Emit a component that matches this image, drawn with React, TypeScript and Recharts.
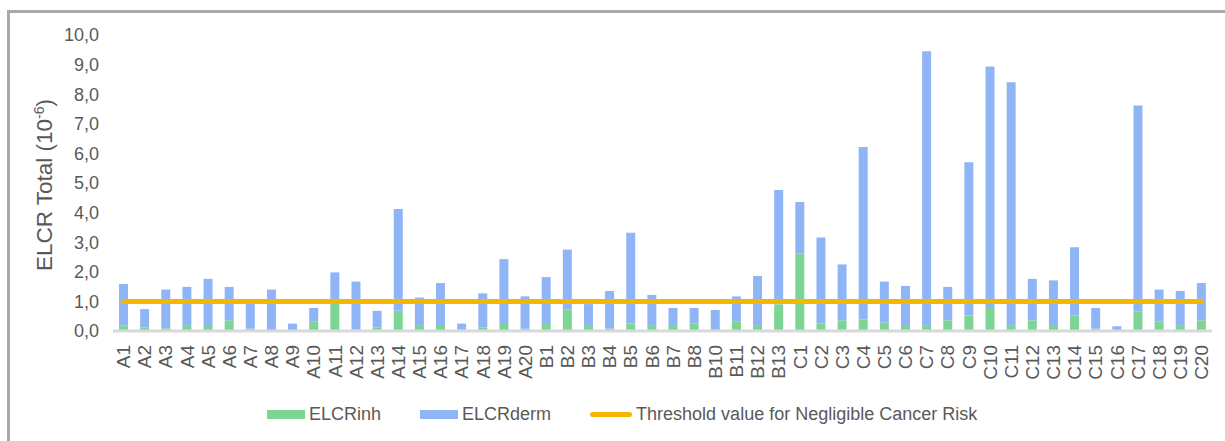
// @ts-nocheck
import React from "react";
import {
  ComposedChart,
  Bar,
  Line,
  XAxis,
  YAxis,
} from "recharts";

const categories = [
  "A1", "A2", "A3", "A4", "A5", "A6", "A7", "A8", "A9", "A10",
  "A11", "A12", "A13", "A14", "A15", "A16", "A17", "A18", "A19", "A20",
  "B1", "B2", "B3", "B4", "B5", "B6", "B7", "B8", "B10", "B11", "B12", "B13",
  "C1", "C2", "C3", "C4", "C5", "C6", "C7", "C8", "C9", "C10",
  "C11", "C12", "C13", "C14", "C15", "C16", "C17", "C18", "C19", "C20",
];

const elcrInh = [
  0.18, 0.12, 0.09, 0.2, 0.17, 0.36, 0.08, 0.02, 0.0, 0.33,
  0.95, 0.06, 0.12, 0.68, 0.2, 0.17, 0.06, 0.12, 0.27, 0.08,
  0.27, 0.73, 0.17, 0.08, 0.25, 0.2, 0.2, 0.25, 0.0, 0.33, 0.2, 0.9,
  2.62, 0.25, 0.36, 0.39, 0.28, 0.2, 0.2, 0.36, 0.52, 0.78,
  0.2, 0.36, 0.17, 0.52, 0.08, 0.0, 0.66, 0.32, 0.2, 0.36,
];

const elcrDerm = [
  1.41, 0.62, 1.31, 1.29, 1.59, 1.13, 0.87, 1.38, 0.25, 0.45,
  1.03, 1.61, 0.56, 3.44, 0.93, 1.45, 0.19, 1.15, 2.16, 1.09,
  1.55, 2.02, 0.74, 1.27, 3.07, 1.02, 0.58, 0.53, 0.71, 0.84, 1.66, 3.86,
  1.74, 2.91, 1.89, 5.83, 1.39, 1.32, 9.25, 1.13, 5.18, 8.16,
  8.2, 1.4, 1.54, 2.31, 0.7, 0.16, 6.96, 1.08, 1.15, 1.26,
];

// negligible cancer risk level, 1 x 10^-6
const THRESHOLD = 1.0;

const yTicks = [0, 1, 2, 3, 4, 5, 6, 7, 8, 9, 10];

const GREEN = "#7dd593";
const BLUE = "#8fb5f7";
const GOLD = "#f4b700";
const TEXT = "#595959";
const FONT = "'Liberation Sans', Arial, sans-serif";

const data = categories.map((name, i) => ({
  name,
  inh: elcrInh[i],
  derm: elcrDerm[i],
  threshold: THRESHOLD,
}));

function XTick({ x, y, payload }) {
  return (
    <text
      transform={`translate(${x},${y}) rotate(-90)`}
      textAnchor="end"
      dy="0.35em"
      fontSize={19}
      fill={TEXT}
      fontFamily={FONT}
    >
      {payload.value}
    </text>
  );
}

const legendItems = [
  { label: "ELCRinh", color: GREEN, kind: "bar" },
  { label: "ELCRderm", color: BLUE, kind: "bar" },
  { label: "Threshold value for Negligible Cancer Risk", color: GOLD, kind: "line" },
];

export default function App() {
  return (
    <div
      style={{
        position: "absolute",
        left: 0,
        top: 0,
        width: 1225,
        height: 441,
        overflow: "hidden",
        background: "#fff",
        fontFamily: FONT,
      }}
    >
      {/* frame of the original figure, only top and left edges are visible */}
      <div
        style={{
          position: "absolute",
          left: 7,
          top: 10,
          width: 1400,
          height: 600,
          borderLeft: "3px solid #a9a9a9",
          borderTop: "3px solid #a9a9a9",
        }}
      />
      <div style={{ position: "absolute", left: 0, top: 0 }}>
        <ComposedChart
          width={1225}
          height={441}
          data={data}
          margin={{ top: 35, right: 13, left: 53, bottom: 50 }}
          barSize={9}
        >
          <XAxis
            dataKey="name"
            interval={0}
            height={60}
            tickLine={false}
            tickSize={0}
            tickMargin={14}
            axisLine={{ stroke: "#d9d9d9", strokeWidth: 3 }}
            tick={<XTick />}
          />
          <YAxis
            width={60}
            domain={[0, 10]}
            ticks={yTicks}
            axisLine={false}
            tickLine={false}
            tickSize={0}
            tickMargin={14}
            tickFormatter={(v) => v.toFixed(1).replace(".", ",")}
            tick={{ fontSize: 18, fill: TEXT, fontFamily: FONT }}
          />
          <Bar dataKey="inh" stackId="elcr" fill={GREEN} isAnimationActive={false} />
          <Bar dataKey="derm" stackId="elcr" fill={BLUE} isAnimationActive={false} />
          <Line
            dataKey="threshold"
            stroke={GOLD}
            strokeWidth={5}
            strokeLinecap="round"
            dot={false}
            activeDot={false}
            isAnimationActive={false}
          />
          <text
            transform="translate(52,185) rotate(-90)"
            textAnchor="middle"
            fontSize={22.5}
            fill={TEXT}
            fontFamily={FONT}
          >
            ELCR Total (10
            <tspan dy={-8} fontSize={14}>-6</tspan>
            <tspan dy={8}>)</tspan>
          </text>
        </ComposedChart>
      </div>

      <div
        style={{
          position: "absolute",
          left: 267,
          top: 404,
          display: "flex",
          alignItems: "center",
          fontSize: 18,
          color: TEXT,
          whiteSpace: "nowrap",
        }}
      >
        {legendItems.map((item, i) => (
          <div
            key={item.label}
            style={{ display: "flex", alignItems: "center", marginLeft: i === 0 ? 0 : 39 }}
          >
            <span
              style={{
                display: "inline-block",
                width: item.kind === "bar" ? 38 : 42,
                height: item.kind === "bar" ? 9 : 5,
                borderRadius: item.kind === "bar" ? 0 : 3,
                background: item.color,
                marginRight: 4,
              }}
            />
            <span>{item.label}</span>
          </div>
        ))}
      </div>
    </div>
  );
}
